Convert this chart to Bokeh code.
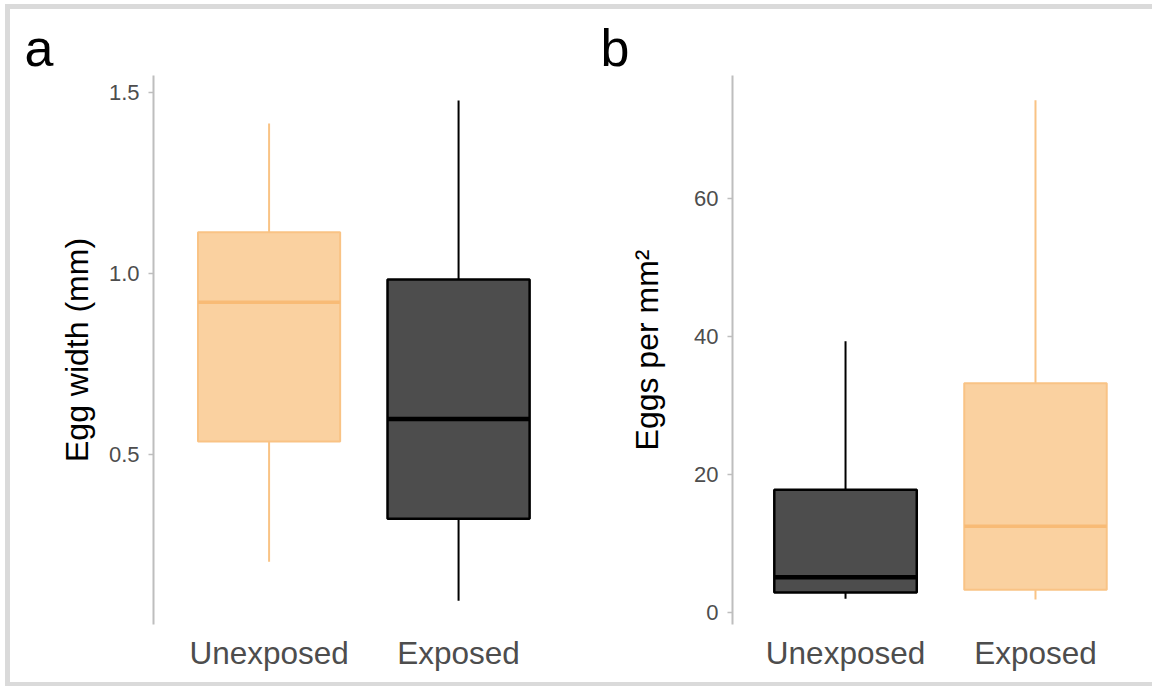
from bokeh.plotting import figure
from bokeh.layouts import row
from bokeh.models import Range1d, FixedTicker, NumeralTickFormatter, ColumnDataSource
from bokeh.embed import file_html
from bokeh.resources import INLINE

# ---- data ----
groups = ["Unexposed", "Exposed"]
group_pos = [1, 2]

# panel a: egg width (mm)
a_lo = [0.202, 0.094]
a_q1 = [0.535, 0.321]
a_med = [0.920, 0.597]
a_q3 = [1.114, 0.983]
a_hi = [1.415, 1.479]

# panel b: eggs per mm2
b_lo = [2.0, 1.9]
b_q1 = [2.9, 3.3]
b_med = [5.1, 12.5]
b_q3 = [17.8, 33.2]
b_hi = [39.3, 74.2]

a_ticks = [0.5, 1.0, 1.5]
b_ticks = [0, 20, 40, 60]

# styles
ORANGE = dict(fill="#FAD1A0", line="#F9C385", med="#F8BB76", lw=2, mw=3.5)
DARK = dict(fill="#4D4D4D", line="#000000", med="#000000", lw=2.5, mw=4.5)
a_styles = [ORANGE, DARK]
b_styles = [DARK, ORANGE]

FONT = "Liberation Sans"
H = 673


def make_panel(width, lo, q1, med, q3, hi, styles, xr, yr, ticks, fmt, ylabel,
               mbl, mbr, lab_standoff, letter, letter_offset):
    p = figure(width=width, height=H, output_backend="svg", toolbar_location=None,
               x_range=Range1d(*xr), y_range=Range1d(*yr),
               min_border_left=mbl, min_border_right=mbr,
               min_border_top=66, min_border_bottom=58)
    p.outline_line_color = None
    p.xgrid.visible = False
    p.ygrid.visible = False
    p.background_fill_color = "white"
    p.border_fill_color = "white"

    for i in range(len(group_pos)):
        s = styles[i]
        src = ColumnDataSource(dict(x=[group_pos[i]], lo=[lo[i]], q1=[q1[i]], med=[med[i]],
                                    q3=[q3[i]], hi=[hi[i]]))
        p.segment(x0="x", x1="x", y0="q3", y1="hi", source=src, line_color=s["line"], line_width=2)
        p.segment(x0="x", x1="x", y0="lo", y1="q1", source=src, line_color=s["line"], line_width=2)
        p.vbar(x="x", width=0.75, bottom="q1", top="q3", source=src,
               fill_color=s["fill"], line_color=s["line"], line_width=s["lw"])
        src_m = ColumnDataSource(dict(x0=[group_pos[i] - 0.375], x1=[group_pos[i] + 0.375],
                                      y=[med[i]]))
        p.segment(x0="x0", x1="x1", y0="y", y1="y", source=src_m,
                  line_color=s["med"], line_width=s["mw"])

    # x axis
    xa = p.xaxis[0]
    xa.ticker = FixedTicker(ticks=group_pos)
    xa.major_label_overrides = {k: v for k, v in zip(group_pos, groups)}
    xa.axis_line_color = None
    xa.major_tick_line_color = None
    xa.minor_tick_line_color = None
    xa.major_label_text_font = FONT
    xa.major_label_text_font_size = "31.5px"
    xa.major_label_text_color = "#4D4D4D"
    xa.major_label_standoff = 4

    # y axis
    ya = p.yaxis[0]
    ya.ticker = FixedTicker(ticks=ticks)
    if fmt:
        ya.formatter = NumeralTickFormatter(format=fmt)
    ya.axis_line_color = "#BEBEBE"
    ya.axis_line_width = 2
    ya.major_tick_line_color = "#BEBEBE"
    ya.major_tick_line_width = 1.5
    ya.major_tick_out = 5
    ya.major_tick_in = 0
    ya.minor_tick_line_color = None
    ya.major_label_text_font = FONT
    ya.major_label_text_font_size = "22px"
    ya.major_label_text_color = "#4D4D4D"
    ya.major_label_standoff = 9
    ya.axis_label = ylabel
    ya.axis_label_text_font = FONT
    ya.axis_label_text_font_size = "32px"
    ya.axis_label_text_font_style = "normal"
    ya.axis_label_text_color = "#000000"
    ya.axis_label_standoff = lab_standoff

    # panel letter
    p.title.text = letter
    p.title.text_font = FONT
    p.title.text_font_size = "52px"
    p.title.text_font_style = "normal"
    p.title.text_color = "#000000"
    p.title.align = "left"
    p.title.offset = letter_offset
    p.title.standoff = -3
    return p


fa = make_panel(580, a_lo, a_q1, a_med, a_q3, a_hi, a_styles, (0.39, 2.596), (0.028, 1.548),
                a_ticks, "0.0", "Egg width (mm)", 143, 19, 11, "a", -129)
fb = make_panel(562, b_lo, b_q1, b_med, b_q3, b_hi, b_styles, (0.405, 2.616), (-1.74, 77.8),
                b_ticks, None, "Eggs per mm²", 142, 0, 26, "b", -132)

layout = row(fa, fb, styles={
    "border-top": "5px solid #DADADA",
    "border-left": "5px solid #DADADA",
    "border-bottom": "4px solid #DADADA",
    "margin-top": "4px",
    "margin-left": "5px",
})

open("out.html", "w").write(file_html(layout, INLINE))
